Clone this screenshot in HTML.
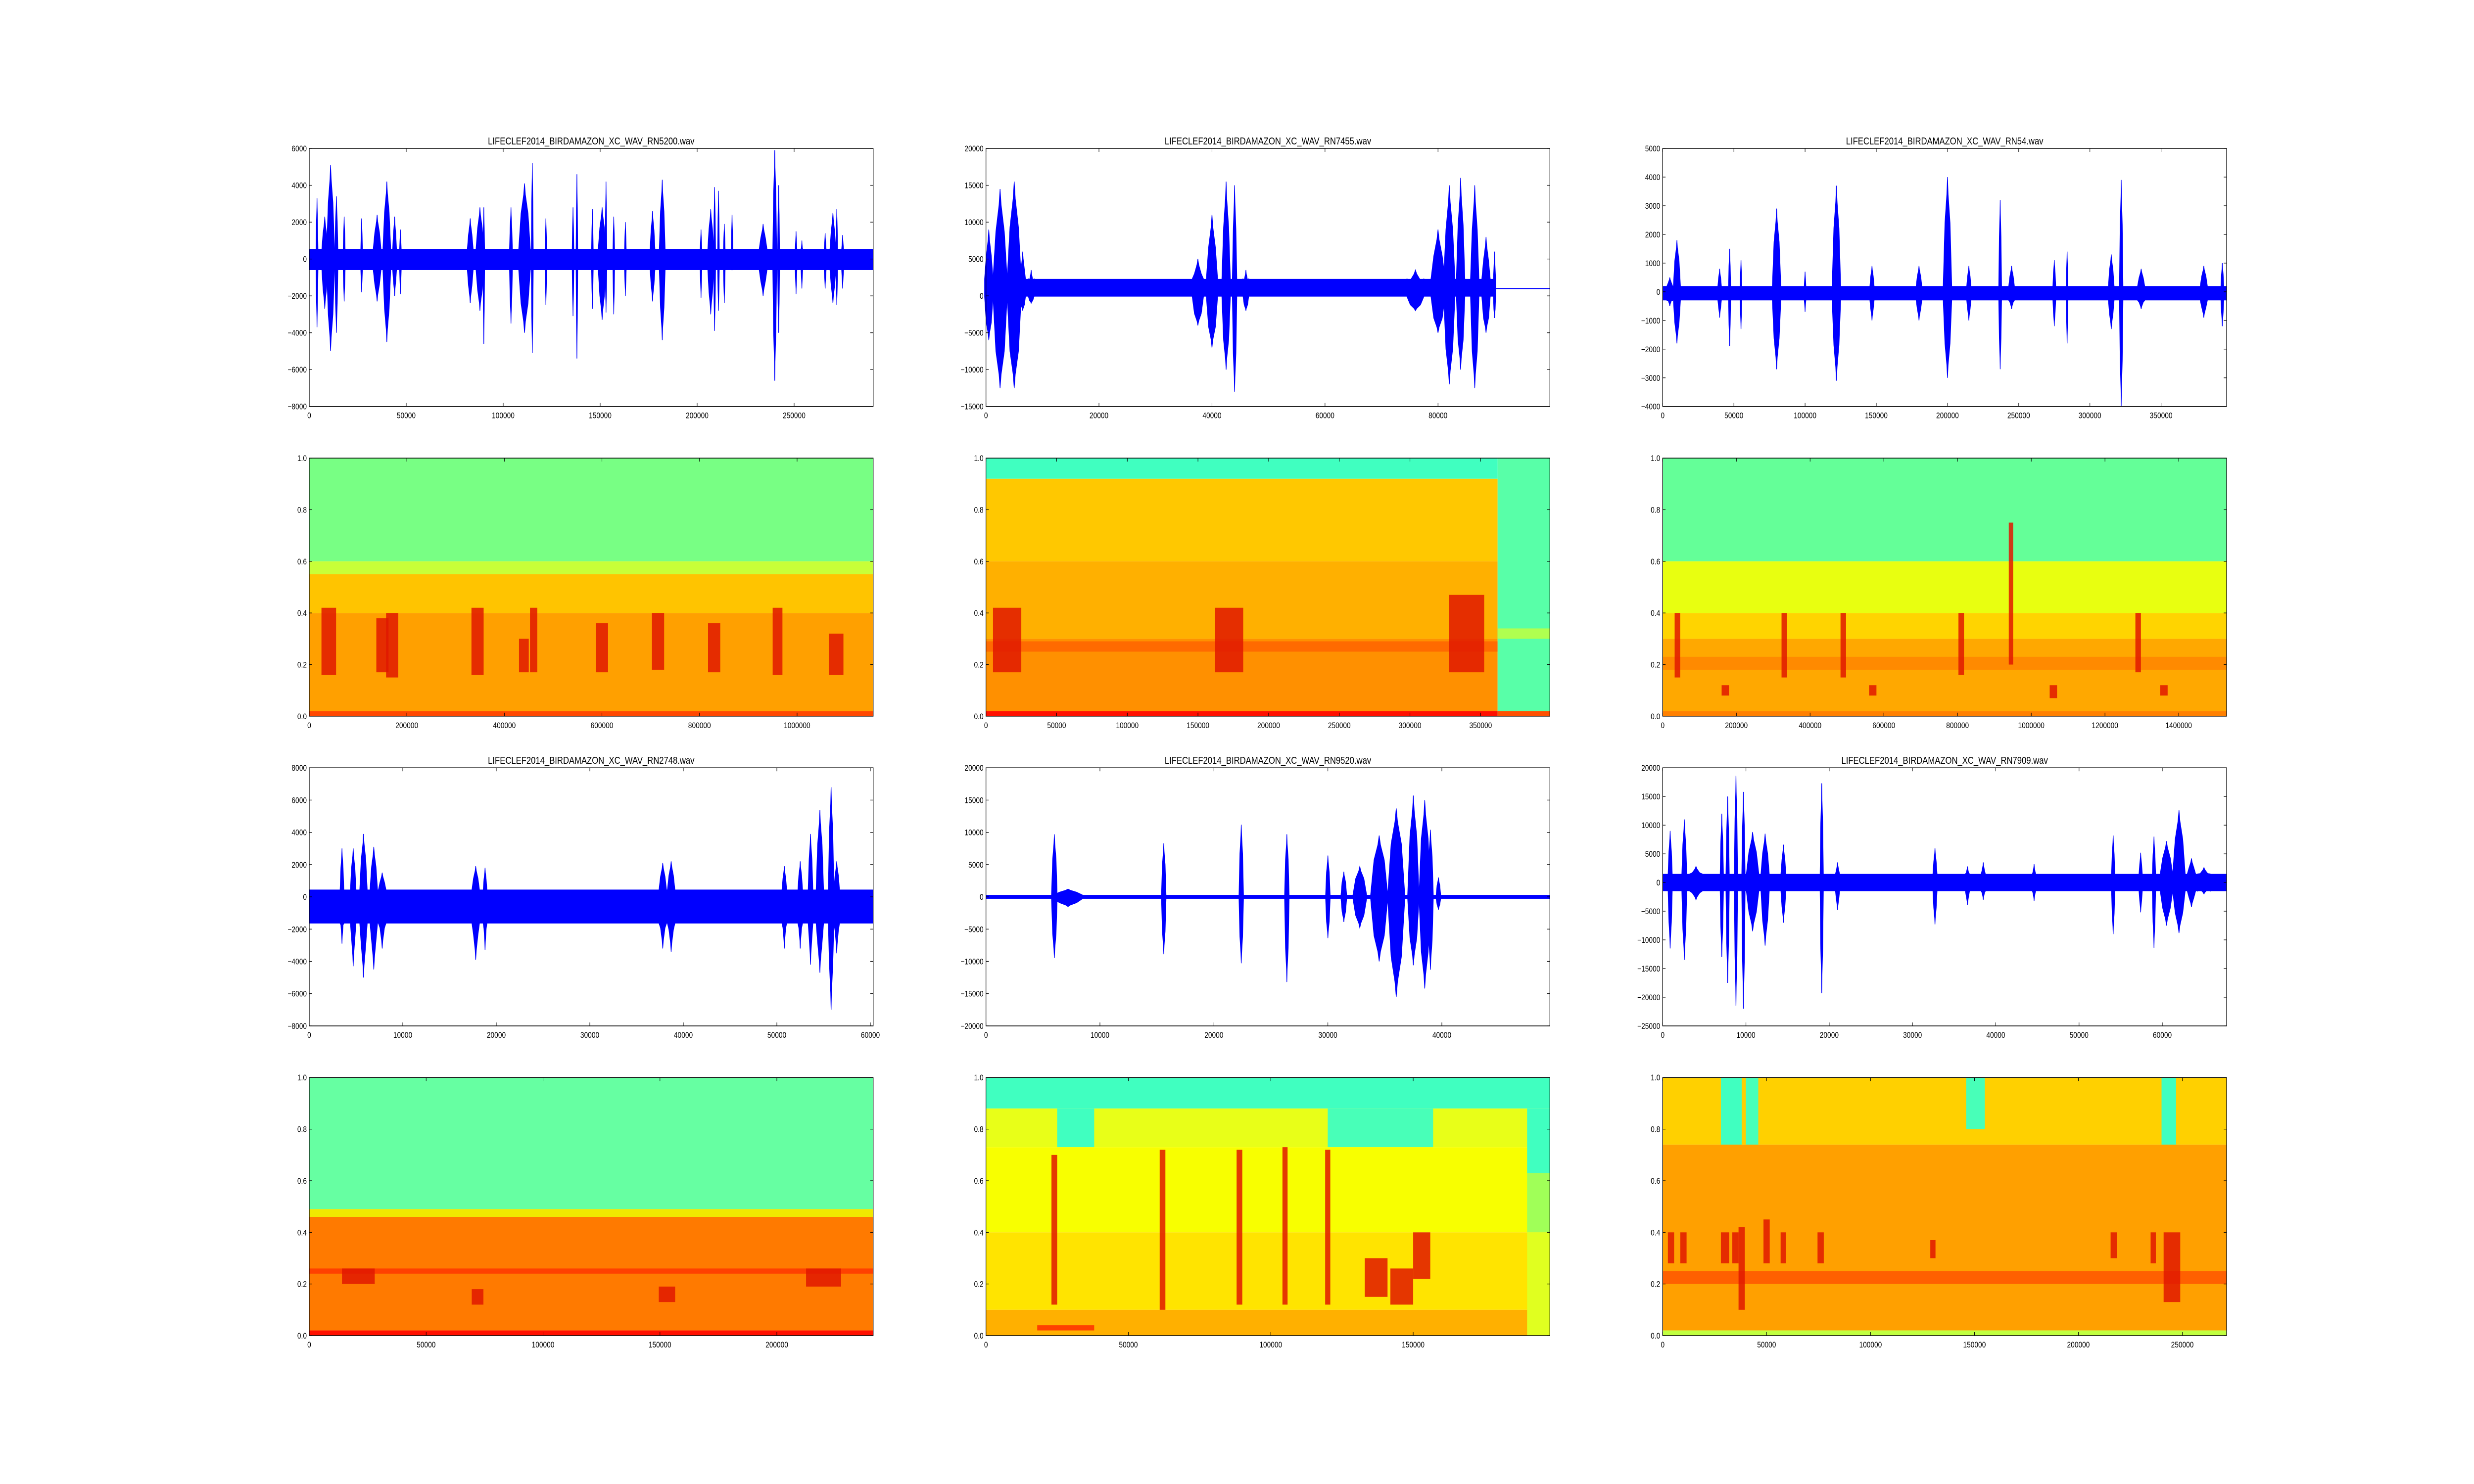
<!DOCTYPE html>
<html><head><meta charset="utf-8">
<style>
html,body{margin:0;padding:0;background:#fff;width:100%;height:100%;overflow:hidden;}
svg{display:block;width:100vw;height:100vh;}
text{font-family:"Liberation Sans",sans-serif;fill:#000;}
</style></head>
<body>
<svg id="fig" viewBox="0 0 6000 3000" preserveAspectRatio="none" xmlns="http://www.w3.org/2000/svg">
<rect x="0" y="0" width="6000" height="3000" fill="#fff"/>
</svg>
<script>
// ---------- waveform data: events [x, width, peakUp, peakDown] ----------
const wave1Title = "LIFECLEF2014_BIRDAMAZON_XC_WAV_RN5200.wav";
const wave1XMax = 290760;
const wave1YTicks = [-8000,-6000,-4000,-2000,0,2000,4000,6000];
const wave1XTicks = [0,50000,100000,150000,200000,250000];
const wave1Base = [0, 290760, 550, -600];
const wave1Events = [[4000,1000,3300,-3700],[8000,3000,2300,-2700],[11000,4000,5100,-5000],[14000,1500,3400,-4000],[18000,1000,2300,-2300],[27000,500,2200,-1800],[35000,4000,2400,-2300],[40000,4000,4200,-4500],[44000,2000,2300,-2000],[47000,500,1600,-1900],[83000,3000,2200,-2400],[88000,4000,2800,-2800],[90000,600,2800,-4600],[104000,1500,2800,-3500],[111000,6000,4100,-4000],[115000,1000,5200,-5100],[122000,600,2200,-2500],[136000,500,2800,-3100],[138000,300,4600,-5400],[146000,600,2700,-2700],[151000,4000,2800,-3300],[153000,600,4200,-2900],[157000,500,2300,-3000],[163000,500,2000,-2000],[177000,2500,2600,-2300],[182000,3000,4300,-4400],[202000,400,1600,-2100],[207000,3000,2700,-3000],[209000,1000,3900,-3900],[211000,600,3700,-2800],[214000,400,1900,-2400],[218000,200,2400,-600],[234000,4000,1900,-2000],[240000,2000,5900,-6600],[242000,1000,4000,-4000],[251000,500,1500,-1900],[254000,500,1000,-1600],[266000,1000,1400,-1600],[270000,3000,2500,-2400],[272000,600,2700,-2500],[275000,1000,1300,-1600]];

const wave2Title = "LIFECLEF2014_BIRDAMAZON_XC_WAV_RN7455.wav";
const wave2XMax = 99800;
const wave2YTicks = [-15000,-10000,-5000,0,5000,10000,15000,20000];
const wave2XTicks = [0,20000,40000,60000,80000];
const wave2Base = [0, 90000, 2300, -100];
const wave2Flat = [90000, 99800, 1000];
const wave2Events = [[500,1500,9000,-6000],[2500,2500,14500,-12500],[5000,2500,15500,-12500],[6500,1000,6000,-2000],[8000,1000,3500,-1000],[37500,2000,5000,-4000],[40000,2000,11000,-7000],[42500,1500,15500,-10000],[44000,800,15000,-13000],[46000,1000,3500,-2000],[76000,3000,3500,-2000],[80000,2500,9000,-5000],[82000,2000,15000,-12000],[84000,1500,16000,-10000],[86500,1500,15000,-12500],[88500,1500,8000,-5000],[90000,400,6000,-3000]];

const wave3Title = "LIFECLEF2014_BIRDAMAZON_XC_WAV_RN54.wav";
const wave3XMax = 396000;
const wave3YTicks = [-4000,-3000,-2000,-1000,0,1000,2000,3000,4000,5000];
const wave3XTicks = [0,50000,100000,150000,200000,250000,300000,350000];
const wave3Base = [0, 396000, 200, -300];
const wave3Events = [[5000,4000,500,-500],[10000,5000,1800,-1800],[40000,2500,800,-900],[47000,1500,1500,-1900],[55000,1000,1100,-1300],[80000,6000,2900,-2700],[100000,1000,700,-700],[122000,6000,3700,-3100],[147000,3000,900,-1000],[180000,4000,900,-1000],[200000,6000,4000,-3000],[215000,3000,900,-1000],[237000,2000,3200,-2700],[245000,4000,900,-600],[275000,2000,1100,-1200],[284000,500,1400,-1800],[315000,4000,1300,-1300],[322000,2500,3900,-4000],[336000,5000,800,-600],[380000,5000,900,-900],[393000,2000,1000,-1200]];

const wave4Title = "LIFECLEF2014_BIRDAMAZON_XC_WAV_RN2748.wav";
const wave4XMax = 60300;
const wave4YTicks = [-8000,-6000,-4000,-2000,0,2000,4000,6000,8000];
const wave4XTicks = [0,10000,20000,30000,40000,50000,60000];
const wave4Base = [0, 60300, 450, -1650];
const wave4Events = [[3500,400,3000,-2900],[4700,600,3000,-4300],[5800,800,3900,-5000],[6900,800,3100,-4500],[7800,800,1500,-3200],[17800,800,1900,-3900],[18800,400,1800,-3300],[37800,800,2100,-3200],[38700,800,2200,-3400],[50800,500,1900,-3200],[52500,500,2200,-3200],[53600,500,3900,-4200],[54600,800,5400,-4700],[55800,600,6800,-7000],[56400,600,2200,-3500]];

const wave5Title = "LIFECLEF2014_BIRDAMAZON_XC_WAV_RN9520.wav";
const wave5XMax = 49480;
const wave5YTicks = [-20000,-15000,-10000,-5000,0,5000,10000,15000,20000];
const wave5XTicks = [0,10000,20000,30000,40000];
const wave5Base = [0, 49480, 300, -300];
const wave5Events = [[6000,500,9700,-9500],[7200,2500,1200,-1500],[15600,400,8300,-8900],[22400,400,11200,-10300],[26400,400,9700,-13200],[30000,400,6400,-6400],[31400,500,3900,-3900],[32800,1200,4700,-4800],[34500,1500,9500,-10000],[36000,1500,13700,-15500],[37500,1000,15700,-10600],[38500,1000,15000,-14200],[39000,500,10400,-11300],[39700,400,3000,-2000]];

const wave6Title = "LIFECLEF2014_BIRDAMAZON_XC_WAV_RN7909.wav";
const wave6XMax = 67720;
const wave6YTicks = [-25000,-20000,-15000,-10000,-5000,0,5000,10000,15000,20000];
const wave6XTicks = [0,10000,20000,30000,40000,50000,60000];
const wave6Base = [0, 67720, 1500, -1500];
const wave6Events = [[900,500,9000,-11500],[2600,600,11000,-13500],[4000,1500,2800,-3000],[7100,400,12000,-13000],[7800,400,15000,-17500],[8800,400,18600,-21500],[9700,400,15800,-22000],[10800,1500,8800,-8500],[12300,1000,8500,-11000],[14500,600,6600,-7000],[19100,400,17300,-19300],[21000,500,3500,-4800],[32700,500,6000,-7300],[36600,500,2800,-3900],[38500,500,3500,-3000],[44600,400,3200,-3200],[54100,400,8200,-9000],[57400,400,5200,-5200],[59000,400,8000,-11400],[60500,1500,7200,-7500],[62000,1500,12600,-8800],[63500,1000,4200,-4300],[65000,1500,2600,-2000]];

// ---------- spectrogram data: cells [x0, x1, y0, y1, color], calls [x, width, y0, y1] ----------
const specYTicks = [0,0.2,0.4,0.6,0.8,1.0];
const spec1XMax = 1156000;
const spec1XTicks = [0,200000,400000,600000,800000,1000000];
const spec1Cells = [[0,1156000,0.6,1,"#78ff84"],[0,1156000,0.55,0.6,"#c8ff38"],[0,1156000,0.4,0.55,"#ffc400"],[0,1156000,0.02,0.4,"#ffa000"],[0,1156000,0,0.02,"#ff4800"]];
const spec1Calls = [[40000,30000,0.16,0.42],[150000,25000,0.17,0.38],[170000,25000,0.15,0.4],[345000,25000,0.16,0.42],[440000,20000,0.17,0.3],[460000,15000,0.17,0.42],[600000,25000,0.17,0.36],[715000,25000,0.18,0.4],[830000,25000,0.17,0.36],[960000,20000,0.16,0.42],[1080000,30000,0.16,0.32]];

const spec2XMax = 399000;
const spec2XTicks = [0,50000,100000,150000,200000,250000,300000,350000];
const spec2Cells = [[0,362000,0.92,1,"#40ffc0"],[0,362000,0.6,0.92,"#ffc800"],[0,362000,0.3,0.6,"#ffb000"],[0,362000,0.02,0.3,"#ff9000"],[0,362000,0.25,0.29,"#ff6a00"],[0,362000,0,0.02,"#ff1000"],[362000,399000,0,1,"#58ffa8"],[362000,399000,0.3,0.34,"#b0ff50"],[362000,399000,0,0.02,"#ff5000"]];
const spec2Calls = [[15000,20000,0.17,0.42],[172000,20000,0.17,0.42],[340000,25000,0.17,0.47]];

const spec3XMax = 1530000;
const spec3XTicks = [0,200000,400000,600000,800000,1000000,1200000,1400000];
const spec3Cells = [[0,1530000,0.6,1,"#64ff98"],[0,1530000,0.4,0.6,"#e8ff10"],[0,1530000,0.3,0.4,"#ffd400"],[0,1530000,0.02,0.3,"#ffa800"],[0,1530000,0.18,0.23,"#ff8a00"],[0,1530000,0,0.02,"#ff8000"]];
const spec3Calls = [[40000,15000,0.15,0.4],[330000,15000,0.15,0.4],[490000,15000,0.15,0.4],[810000,15000,0.16,0.4],[945000,12000,0.2,0.75],[1290000,15000,0.17,0.4],[170000,20000,0.08,0.12],[570000,20000,0.08,0.12],[1060000,20000,0.07,0.12],[1360000,20000,0.08,0.12]];

const spec4XMax = 241200;
const spec4XTicks = [0,50000,100000,150000,200000];
const spec4Cells = [[0,241200,0.49,1,"#66ffa2"],[0,241200,0.46,0.49,"#f0e800"],[0,241200,0.02,0.46,"#ff7a00"],[0,241200,0.24,0.26,"#ff4000"],[0,241200,0,0.02,"#ff1000"]];
const spec4Calls = [[21000,14000,0.2,0.26],[72000,5000,0.12,0.18],[153000,7000,0.13,0.19],[220000,15000,0.19,0.26]];

const spec5XMax = 198000;
const spec5XTicks = [0,50000,100000,150000];
const spec5Cells = [[0,198000,0.88,1,"#40ffc0"],[0,198000,0.73,0.88,"#e8ff18"],[25000,38000,0.73,0.88,"#40ffc0"],[120000,157000,0.73,0.88,"#48ffb8"],[0,198000,0.4,0.73,"#f8ff00"],[0,198000,0.1,0.4,"#ffe400"],[0,198000,0,0.1,"#ffb000"],[18000,38000,0.02,0.04,"#ff4000"],[190000,198000,0.63,0.88,"#40ffc0"],[190000,198000,0.4,0.63,"#a0ff58"],[190000,198000,0,0.4,"#e0ff20"]];
const spec5Calls = [[24000,2000,0.12,0.7],[62000,2000,0.1,0.72],[89000,2000,0.12,0.72],[105000,1800,0.12,0.73],[120000,1800,0.12,0.72],[137000,8000,0.15,0.3],[146000,8000,0.12,0.26],[153000,6000,0.22,0.4]];

const spec6XMax = 271300;
const spec6XTicks = [0,50000,100000,150000,200000,250000];
const spec6Cells = [[0,271300,0.74,1,"#ffd000"],[28000,38000,0.74,1,"#40ffc0"],[40000,46000,0.74,1,"#48ffb8"],[146000,155000,0.8,1,"#48ffb8"],[240000,247000,0.74,1,"#40ffc0"],[0,271300,0.02,0.74,"#ffa000"],[0,271300,0.2,0.25,"#ff6000"],[0,271300,0,0.02,"#c0ff40"]];
const spec6Calls = [[4000,3000,0.28,0.4],[10000,3000,0.28,0.4],[30000,4000,0.28,0.4],[35000,3000,0.28,0.4],[38000,3000,0.1,0.42],[50000,3000,0.28,0.45],[58000,2500,0.28,0.4],[76000,3000,0.28,0.4],[130000,2500,0.3,0.37],[217000,3000,0.3,0.4],[236000,2500,0.28,0.4],[245000,8000,0.13,0.4]];

// ---------- layout ----------
const NS = "http://www.w3.org/2000/svg";
const svg = document.getElementById("fig");
const AXW = 4650/3.4, AXH = 2400/4.6;
function axRect(row,col){ return {x:750+col*AXW*1.2, y:300+row*AXH*1.2, w:AXW, h:AXH}; }
function mk(tag, attrs, parent){ const e=document.createElementNS(NS,tag); for(const k in attrs) e.setAttribute(k,attrs[k]); (parent||svg).appendChild(e); return e; }
function fmt(v, dec){ const s = dec ? v.toFixed(1) : String(v); return s.replace("-", "\u2212"); }

function drawAxes(r, g, xTicks, xMax, yTicks, yMin, yMax, dec, name){
  const sx = v => r.x + v/xMax*r.w;
  const sy = v => r.y + r.h - (v-yMin)/(yMax-yMin)*r.h;
  for(const t of xTicks){
    const X = sx(t);
    const a=mk("line",{x1:X,y1:r.y+r.h,x2:X,y2:r.y+r.h-7,stroke:"#000","stroke-width":1.2},g);
    
    
    const b=mk("line",{x1:X,y1:r.y,x2:X,y2:r.y+7,stroke:"#000","stroke-width":1.2},g);
    
    
    const tx=mk("text",{x:X,y:r.y+r.h+24,"font-size":16.5,"text-anchor":"middle"},g);
    tx.textContent = fmt(t,false);
    
    
  }
  for(const t of yTicks){
    const Y = sy(t);
    const a=mk("line",{x1:r.x,y1:Y,x2:r.x+7,y2:Y,stroke:"#000","stroke-width":1.2},g);
    
    
    const b=mk("line",{x1:r.x+r.w,y1:Y,x2:r.x+r.w-7,y2:Y,stroke:"#000","stroke-width":1.2},g);
    
    
    const tx=mk("text",{x:r.x-6,y:Y+6,"font-size":16.5,"text-anchor":"end"},g);
    tx.textContent = fmt(t,dec);
    
    
  }
  const fr=mk("rect",{x:r.x,y:r.y,width:r.w,height:r.h,fill:"none",stroke:"#000","stroke-width":1.5},g);
  
  
}

function drawWave(row,col,title,xMax,yTicks,xTicks,base,events,flat,name){
  const r = axRect(row,col);
  const yMin=yTicks[0], yMax=yTicks[yTicks.length-1];
  const g = mk("g",{});
  
  
  const sx = v => r.x + v/xMax*r.w;
  const sy = v => r.y + r.h - (v-yMin)/(yMax-yMin)*r.h;
  const bb=mk("rect",{x:sx(base[0]),y:sy(base[2]),width:sx(base[1])-sx(base[0]),height:sy(base[3])-sy(base[2]),fill:"#0000ff"},g);
  
  
  if(flat){
    const fl=mk("line",{x1:sx(flat[0]),y1:sy(flat[2]),x2:sx(flat[1]),y2:sy(flat[2]),stroke:"#0000ff","stroke-width":2},g);
    
    
  }
  for(const e of events){
    const cx=sx(e[0]); const hw=Math.max(2, (sx(e[1])-sx(0))/2);
    const bt=sy(base[2]), bbm=sy(base[3]);
    const pts=[[cx-hw,bt],[cx-hw*0.6,sy(e[2]*0.6)],[cx-hw*0.15,sy(e[2]*0.85)],[cx,sy(e[2])],[cx+hw*0.15,sy(e[2]*0.85)],[cx+hw*0.6,sy(e[2]*0.6)],[cx+hw,bt],[cx+hw,bbm],[cx+hw*0.6,sy(e[3]*0.6)],[cx+hw*0.15,sy(e[3]*0.85)],[cx,sy(e[3])],[cx-hw*0.15,sy(e[3]*0.85)],[cx-hw*0.6,sy(e[3]*0.6)],[cx-hw,bbm]];
    const p=mk("polygon",{points:pts.map(q=>q[0].toFixed(1)+","+q[1].toFixed(1)).join(" "),fill:"#0000ff",stroke:"#0000ff","stroke-width":1.5},g);
    
    
  }
  drawAxes(r,g,xTicks,xMax,yTicks,yMin,yMax,false,name);
  const t=mk("text",{x:r.x+r.w/2,y:r.y-8,"font-size":20,"text-anchor":"middle"},g);
  t.textContent=title;
  
  
}

function drawSpec(row,col,xMax,xTicks,cells,calls,name){
  const r = axRect(row,col);
  const g = mk("g",{});
  
  
  const sx = v => r.x + v/xMax*r.w;
  const sy = v => r.y + r.h - v*r.h;
  for(const c of cells){
    const rc=mk("rect",{x:sx(c[0]),y:sy(c[3]),width:sx(c[1])-sx(c[0]),height:sy(c[2])-sy(c[3]),fill:c[4]},g);
    
    
  }
  for(const c of calls){
    const w=Math.max(3, sx(c[1])-sx(0));
    const rc=mk("rect",{x:sx(c[0])-w/2,y:sy(c[3]),width:w,height:sy(c[2])-sy(c[3]),fill:"#e01800",opacity:0.85},g);
    
    
  }
  drawAxes(r,g,xTicks,xMax,specYTicks,0,1,true,name);
}

drawWave(0,0,wave1Title,wave1XMax,wave1YTicks,wave1XTicks,wave1Base,wave1Events,null,"waveform-rn5200");
drawWave(0,1,wave2Title,wave2XMax,wave2YTicks,wave2XTicks,wave2Base,wave2Events,wave2Flat,"waveform-rn7455");
drawWave(0,2,wave3Title,wave3XMax,wave3YTicks,wave3XTicks,wave3Base,wave3Events,null,"waveform-rn54");
drawSpec(1,0,spec1XMax,spec1XTicks,spec1Cells,spec1Calls,"spectrogram-rn5200");
drawSpec(1,1,spec2XMax,spec2XTicks,spec2Cells,spec2Calls,"spectrogram-rn7455");
drawSpec(1,2,spec3XMax,spec3XTicks,spec3Cells,spec3Calls,"spectrogram-rn54");
drawWave(2,0,wave4Title,wave4XMax,wave4YTicks,wave4XTicks,wave4Base,wave4Events,null,"waveform-rn2748");
drawWave(2,1,wave5Title,wave5XMax,wave5YTicks,wave5XTicks,wave5Base,wave5Events,null,"waveform-rn9520");
drawWave(2,2,wave6Title,wave6XMax,wave6YTicks,wave6XTicks,wave6Base,wave6Events,null,"waveform-rn7909");
drawSpec(3,0,spec4XMax,spec4XTicks,spec4Cells,spec4Calls,"spectrogram-rn2748");
drawSpec(3,1,spec5XMax,spec5XTicks,spec5Cells,spec5Calls,"spectrogram-rn9520");
drawSpec(3,2,spec6XMax,spec6XTicks,spec6Cells,spec6Calls,"spectrogram-rn7909");
</script>
</body></html>
